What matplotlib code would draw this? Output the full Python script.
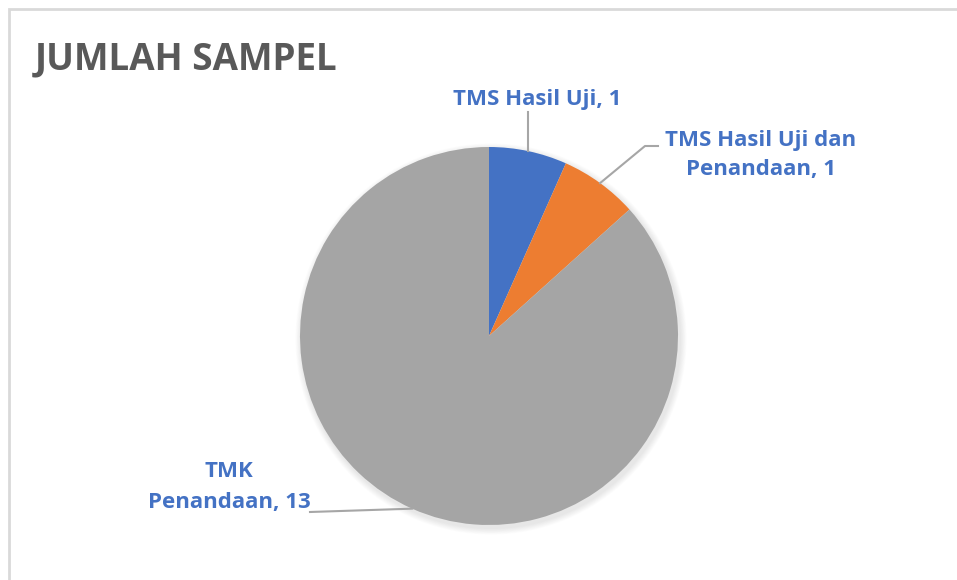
import numpy as np
import matplotlib
matplotlib.use("Agg")
import matplotlib.pyplot as plt
from matplotlib.patches import Rectangle, Circle

title = "JUMLAH SAMPEL"
categories = ["TMS Hasil Uji", "TMS Hasil Uji dan\nPenandaan", "TMK\nPenandaan"]
values = [1, 1, 13]
colors = ["#4472C4", "#ED7D31", "#A5A5A5"]

W, H = 957, 580
fig = plt.figure(figsize=(W / 100, H / 100), dpi=100)
ax = fig.add_axes([0, 0, 1, 1])

def py(y):
    return H - y

cx, cy, r = 489, py(336), 189

wedges, _ = ax.pie(values, colors=colors, startangle=90, counterclock=False,
                   center=(cx, cy), radius=r, frame=True,
                   wedgeprops=dict(linewidth=0, zorder=2))
ax.set_xlim(0, W)
ax.set_ylim(0, H)
ax.axis("off")

# frame
ax.add_patch(Rectangle((9, -10), W + 20, py(9) + 10, fill=False,
                       edgecolor="#D9D9D9", linewidth=2))

# soft shadow
for i in range(8):
    ax.add_patch(Circle((cx + 2, cy - 3), r + 1 + i * 0.8, color="black",
                        alpha=0.012, linewidth=0, zorder=1))

ax.text(35, py(59), title, fontsize=26.5, fontweight="bold", color="#595959",
        family=["Open Sans", "DejaVu Sans"], va="center", ha="left")

lab_color = "#4472C4"
line_color = "#A6A6A6"
fkw = dict(fontsize=16, fontweight="bold", color=lab_color,
           family=["Open Sans", "DejaVu Sans"])

# wedge mid angles
tot = sum(values)
angles = []
start = 90.0
for v in values:
    sweep = 360.0 * v / tot
    angles.append(np.deg2rad(start - sweep / 2))
    start -= sweep
pts = [(cx + r * np.cos(a), cy + r * np.sin(a)) for a in angles]

# label 1
x0, y0 = pts[0]
ax.plot([x0, x0], [y0, py(112)], color=line_color, lw=1.5, zorder=3)
ax.text(x0 + 9, py(100), f"{categories[0]}, {values[0]}", ha="center", va="center", **fkw)

# label 2
x1, y1 = pts[1]
ax.plot([x1, 645, 658], [y1, py(146), py(146)], color=line_color, lw=1.5, zorder=3)
ax.text(761, py(155), f"{categories[1]}, {values[1]}", ha="center", va="center",
        linespacing=1.55, **fkw)

# label 3
x2, y2 = pts[2]
ax.plot([x2, 310], [y2, py(512)], color=line_color, lw=1.5, zorder=3)
ax.text(229, py(487), f"{categories[2]}, {values[2]}", ha="center", va="center",
        linespacing=1.65, **fkw)

fig.savefig("out.png", dpi=100)
